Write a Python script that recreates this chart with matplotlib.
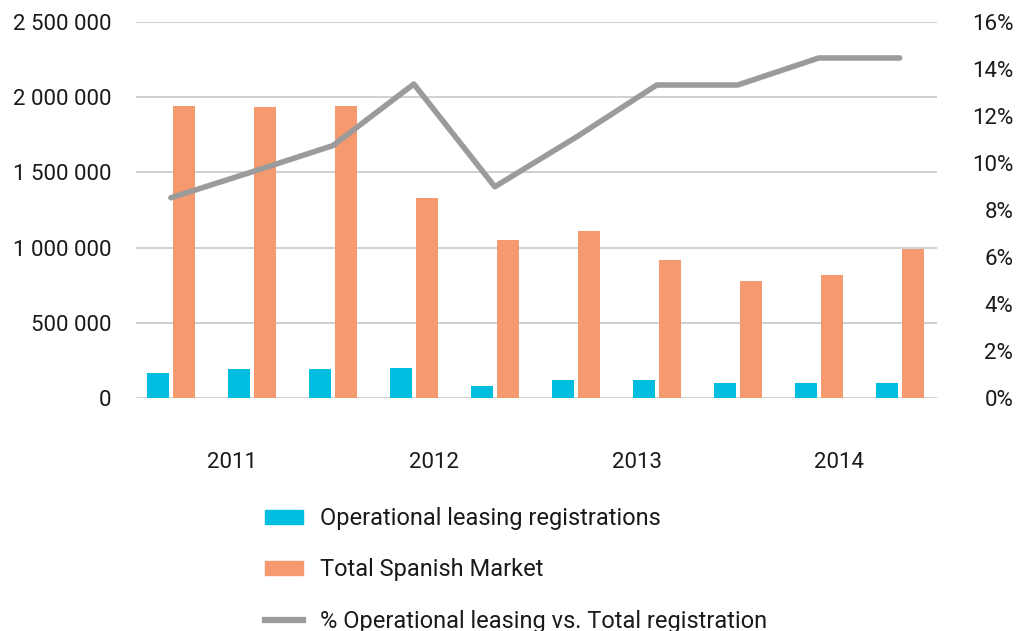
import numpy as np
import matplotlib.pyplot as plt
from matplotlib.patches import Patch
from matplotlib.lines import Line2D

plt.rcParams['font.family'] = ['Roboto', 'DejaVu Sans']

# ten half-year periods, 2011-2014
leasing = [166000, 193000, 193000, 200000, 80000, 120000, 120000, 100000, 100000, 100000]
total_market = [1941000, 1935000, 1941000, 1330000, 1050000, 1110000, 918000, 778000, 818000, 991000]
pct_leasing = [8.52, 9.62, 10.74, 13.36, 8.99, 11.09, 13.32, 13.32, 14.47, 14.47]
years = ['2011', '2012', '2013', '2014']
year_pos = [0.75, 3.25, 5.75, 8.25]

blue = '#00BEE0'
orange = '#F59A6F'
grey = '#9B9B9B'
txt = '#1a1a1a'

fig = plt.figure(figsize=(10.16, 6.31), dpi=100)
ax = fig.add_axes([0.1339, 0.3693, 0.7883, 0.5958])

x = np.arange(len(total_market))
w = 0.27
ax.bar(x - 0.16, leasing, w, color=blue)
ax.bar(x + 0.16, total_market, w, color=orange)

ax.set_xlim(-0.43, 9.46)
ax.set_ylim(0, 2500000)
ax.set_yticks(np.arange(0, 2500001, 500000))
ax.set_yticklabels(['{:,}'.format(v).replace(',', ' ') for v in range(0, 2500001, 500000)])
ax.grid(axis='y', color='#c8c8c8', lw=1.2)
ax.set_axisbelow(True)
ax.set_xticks(year_pos)
ax.set_xticklabels(years)
ax.tick_params(axis='x', length=0, pad=39, labelsize=16, labelcolor=txt)
ax.tick_params(axis='y', length=0, pad=18, labelsize=16, labelcolor=txt)
for s in ax.spines.values():
    s.set_visible(False)

ax2 = ax.twinx()
ax2.plot(x, pct_leasing, color=grey, lw=4, solid_capstyle='round')
ax2.set_ylim(0, 16)
ax2.set_yticks(np.arange(0, 17, 2))
ax2.set_yticklabels(['{}%'.format(v) for v in range(0, 17, 2)], ha='right')
ax2.tick_params(axis='y', length=0, pad=55, labelsize=16, labelcolor=txt)
for s in ax2.spines.values():
    s.set_visible(False)

handles = [Patch(color=blue), Patch(color=orange), Line2D([0], [0], color=grey, lw=4.5)]
labels = ['Operational leasing registrations', 'Total Spanish Market',
          '% Operational leasing vs. Total registration']
fig.legend(handles, labels, loc='upper left', bbox_to_anchor=(265 / 1016, 1 - 507 / 631),
           frameon=False, fontsize=17, labelcolor=txt, handlelength=1.6, handleheight=0.55,
           handletextpad=0.72, labelspacing=1.2, borderpad=0, borderaxespad=0)

fig.savefig('out.png', dpi=100)
